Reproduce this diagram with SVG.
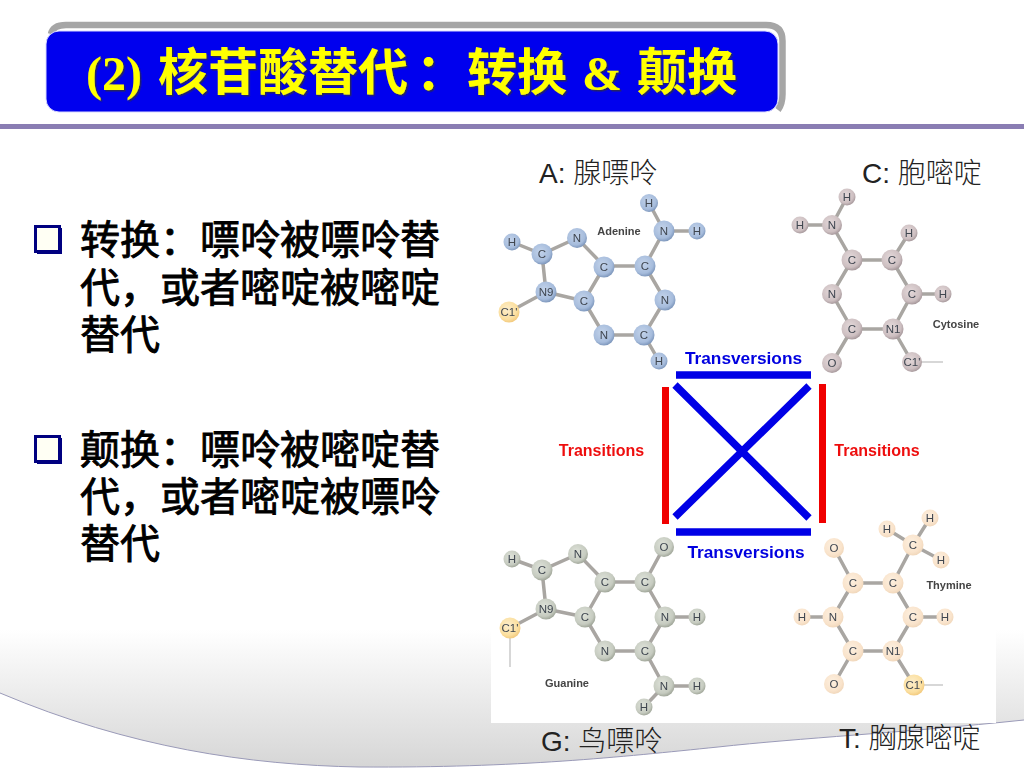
<svg xmlns="http://www.w3.org/2000/svg" width="1024" height="768" viewBox="0 0 1024 768">
<style>
.ttl{font-size:50px;font-weight:700;fill:#ffff00;font-family:"Noto Sans CJK SC",sans-serif}
.ser{font-family:"Liberation Serif",serif;font-size:48px}
.body{font-size:40px;font-weight:400;fill:#000;stroke:#000;stroke-width:.9px;font-family:"Noto Sans CJK SC",sans-serif}
.lab{font-size:28px;fill:#222;font-family:"Liberation Sans","Noto Sans CJK SC",sans-serif;font-weight:300}
.bond{fill:none;stroke:#a9a6a2;stroke-width:3.5}
.thin{fill:none;stroke:#bdbdbd;stroke-width:1.2}
.at{font:400 11.500px "Liberation Sans",sans-serif;fill:#3f4650;text-anchor:middle}
.name{font:700 11px "Liberation Sans",sans-serif;fill:#444;text-anchor:middle}
.a{fill:url(#ga)}.c{fill:url(#gc)}.g{fill:url(#gg)}.t{fill:url(#gt)}.y{fill:url(#gy)}
.tv{font:700 17.300px "Liberation Sans",sans-serif;fill:#0000e0;text-anchor:middle}
.ts{font:700 16px "Liberation Sans",sans-serif;fill:#ee1111;text-anchor:middle}
.blue{stroke:#0000e6;stroke-width:7.500;fill:none}
.red{fill:#f00000}
.bul{fill:#fffff4;stroke:#000080;stroke-width:3}
</style>
<defs>
<linearGradient id="bg" x1="0" y1="0" x2="0" y2="1"><stop offset="0" stop-color="#fff"/><stop offset="1" stop-color="#d6d6d6"/></linearGradient>
<radialGradient id="ga" cx=".42" cy=".38" r=".62"><stop offset="0" stop-color="#c3d3ea"/><stop offset=".75" stop-color="#a6bcdc"/><stop offset="1" stop-color="#7f98bd"/></radialGradient>
<radialGradient id="gc" cx=".42" cy=".38" r=".62"><stop offset="0" stop-color="#e4d9da"/><stop offset=".75" stop-color="#cdbfc1"/><stop offset="1" stop-color="#a89a9d"/></radialGradient>
<radialGradient id="gg" cx=".42" cy=".38" r=".62"><stop offset="0" stop-color="#dfe3da"/><stop offset=".75" stop-color="#c6cbc0"/><stop offset="1" stop-color="#a2a89b"/></radialGradient>
<radialGradient id="gt" cx=".42" cy=".38" r=".62"><stop offset="0" stop-color="#fdf0e0"/><stop offset=".75" stop-color="#f9e3cb"/><stop offset="1" stop-color="#f1d8bc"/></radialGradient>
<radialGradient id="gy" cx=".42" cy=".38" r=".62"><stop offset="0" stop-color="#fdeecb"/><stop offset=".75" stop-color="#fbdf9f"/><stop offset="1" stop-color="#f3cb80"/></radialGradient>
<filter id="soft" x="-5%" y="-5%" width="110%" height="110%"><feGaussianBlur stdDeviation="0.6"/></filter>
<filter id="soft2" x="-5%" y="-5%" width="110%" height="110%"><feGaussianBlur stdDeviation="0.35"/></filter>
<filter id="shd" x="-5%" y="-5%" width="110%" height="115%"><feDropShadow dx="1.5" dy="1.5" stdDeviation="0.6" flood-color="#333" flood-opacity=".75"/></filter>
</defs>

<g id="background">
<rect width="1024" height="768" fill="#fff"/>
<path d="M0 630H1024V720C900 733 800 738 718 747C620 757 520 768 359 767C250 765 130 748 0 693Z" fill="url(#bg)"/>
<path d="M0 693C130 748 250 765 359 767C520 768 620 757 718 747C800 738 900 733 1024 720" fill="none" stroke="#9a9ab8" stroke-width="1"/>
<rect x="0" y="124" width="1024" height="5" fill="#8a7db3"/>
</g>

<g id="title">
<path d="M51 34Q53 25 66 25H766Q782.500 25 782.500 41V94Q782.500 104 778 110" fill="none" stroke="#a6a6a6" stroke-width="6.500"/>
<rect x="46" y="31" width="732" height="81" rx="13" fill="#0000ee" stroke="#d8d8ff" stroke-width="1"/>
<text class="ttl" y="90" filter="url(#shd)"><tspan class="ser" x="86">(2)</tspan><tspan x="158">核苷酸替代</tspan><tspan x="416">：</tspan><tspan x="467">转换</tspan><tspan class="ser" x="582">&amp;</tspan><tspan x="637">颠换</tspan></text>
</g>

<g id="bullet-1">
<rect x="35.500" y="226.500" width="24" height="25" class="bul"/><path d="M61 228V253H37" fill="none" stroke="#000080" stroke-width="2"/>
<text class="body" x="80" y="254">转换：嘌呤被嘌呤替</text>
<text class="body" x="80" y="302">代，或者嘧啶被嘧啶</text>
<text class="body" x="80" y="349">替代</text>
</g>
<g id="bullet-2">
<rect x="35.500" y="436.500" width="24" height="25" class="bul"/><path d="M61 438V463H37" fill="none" stroke="#000080" stroke-width="2"/>
<text class="body" x="80" y="464">颠换：嘌呤被嘧啶替</text>
<text class="body" x="80" y="511">代，或者嘧啶被嘌呤</text>
<text class="body" x="80" y="558">替代</text>
</g>

<rect id="picture" x="491" y="150" width="505" height="573" fill="#fff"/>

<g id="adenine" filter="url(#soft)">
<path class="bond" d="M649 203L664 231H697M664 231L645 266H604L577 238L542 254L512 242M542 254L546 292L584 301L604 267M645 266L665 300L644 335L659 361M644 335H604L584 301M546 292L509 312"/>
<g>
<circle class="a" cx="649" cy="203" r="9"/><circle class="a" cx="664" cy="231" r="10.500"/><circle class="a" cx="697" cy="231" r="8.500"/><circle class="a" cx="577" cy="238" r="10"/><circle class="a" cx="512" cy="242" r="8.500"/><circle class="a" cx="542" cy="254" r="10.500"/><circle class="a" cx="604" cy="267" r="10.500"/><circle class="a" cx="645" cy="266" r="10.500"/><circle class="a" cx="546" cy="292" r="10.500"/><circle class="a" cx="584" cy="301" r="10.500"/><circle class="a" cx="665" cy="300" r="10.500"/><circle class="y" cx="509" cy="312" r="10.500"/><circle class="a" cx="604" cy="335" r="10.500"/><circle class="a" cx="644" cy="335" r="10.500"/><circle class="a" cx="659" cy="361" r="8.500"/>
</g>
<g>
<text class="at" x="649" y="207">H</text><text class="at" x="664" y="235">N</text><text class="at" x="697" y="235">H</text><text class="at" x="577" y="242">N</text><text class="at" x="512" y="246">H</text><text class="at" x="542" y="258">C</text><text class="at" x="604" y="271">C</text><text class="at" x="645" y="270">C</text><text class="at" x="546" y="296">N9</text><text class="at" x="584" y="305">C</text><text class="at" x="665" y="304">N</text><text class="at" x="509" y="316">C1'</text><text class="at" x="604" y="339">N</text><text class="at" x="644" y="339">C</text><text class="at" x="659" y="365">H</text>
</g>
<text class="name" x="619" y="235">Adenine</text>
</g>

<g id="cytosine" filter="url(#soft)">
<path class="bond" d="M847 197L832 225H800M832 225L852 260H892L912 294L893 329H852L832 294L852 260M892 260L909 233M912 294H943M852 329L832 363M893 329L912 362"/>
<path class="thin" d="M912 362H943"/>
<g>
<circle class="c" cx="847" cy="197" r="8.500"/><circle class="c" cx="800" cy="225" r="8.500"/><circle class="c" cx="832" cy="225" r="10"/><circle class="c" cx="909" cy="233" r="8.500"/><circle class="c" cx="852" cy="260" r="10.500"/><circle class="c" cx="892" cy="260" r="10.500"/><circle class="c" cx="832" cy="294" r="10"/><circle class="c" cx="912" cy="294" r="10.500"/><circle class="c" cx="943" cy="294" r="8.500"/><circle class="c" cx="852" cy="329" r="10.500"/><circle class="c" cx="893" cy="329" r="10.500"/><circle class="c" cx="832" cy="363" r="10"/><circle class="c" cx="912" cy="362" r="10"/>
</g>
<g>
<text class="at" x="847" y="201">H</text><text class="at" x="800" y="229">H</text><text class="at" x="832" y="229">N</text><text class="at" x="909" y="237">H</text><text class="at" x="852" y="264">C</text><text class="at" x="892" y="264">C</text><text class="at" x="832" y="298">N</text><text class="at" x="912" y="298">C</text><text class="at" x="943" y="298">H</text><text class="at" x="852" y="333">C</text><text class="at" x="893" y="333">N1</text><text class="at" x="832" y="367">O</text><text class="at" x="912" y="366">C1'</text>
</g>
<text class="name" x="956" y="328">Cytosine</text>
</g>

<g id="guanine" filter="url(#soft)">
<path class="bond" d="M664 547L645 582H605L578 554L542 570L512 559M542 570L546 609L585 617L605 582M645 582L665 617H697M665 617L645 651L664 686H697M664 686L644 707M645 651H605L585 617M546 609L510 628"/>
<path class="thin" d="M510 628V667" stroke-width="1.500"/>
<g>
<circle class="g" cx="664" cy="547" r="10"/><circle class="g" cx="578" cy="554" r="10"/><circle class="g" cx="512" cy="559" r="8.500"/><circle class="g" cx="542" cy="570" r="10.500"/><circle class="g" cx="605" cy="582" r="10.500"/><circle class="g" cx="645" cy="582" r="10.500"/><circle class="g" cx="546" cy="609" r="10.500"/><circle class="g" cx="585" cy="617" r="10.500"/><circle class="g" cx="665" cy="617" r="10.500"/><circle class="g" cx="697" cy="617" r="8.500"/><circle class="y" cx="510" cy="628" r="10.500"/><circle class="g" cx="605" cy="651" r="10.500"/><circle class="g" cx="645" cy="651" r="10.500"/><circle class="g" cx="664" cy="686" r="10.500"/><circle class="g" cx="697" cy="686" r="8.500"/><circle class="g" cx="644" cy="707" r="8.500"/>
</g>
<g>
<text class="at" x="664" y="551">O</text><text class="at" x="578" y="558">N</text><text class="at" x="512" y="563">H</text><text class="at" x="542" y="574">C</text><text class="at" x="605" y="586">C</text><text class="at" x="645" y="586">C</text><text class="at" x="546" y="613">N9</text><text class="at" x="585" y="621">C</text><text class="at" x="665" y="621">N</text><text class="at" x="697" y="621">H</text><text class="at" x="510" y="632">C1'</text><text class="at" x="605" y="655">N</text><text class="at" x="645" y="655">C</text><text class="at" x="664" y="690">N</text><text class="at" x="697" y="690">H</text><text class="at" x="644" y="711">H</text>
</g>
<text class="name" x="567" y="687">Guanine</text>
</g>

<g id="thymine" filter="url(#soft)">
<path class="bond" d="M930 518L913 545L887 529M913 545L941 560M913 545L893 583H853L834 548M853 583L833 617H802M833 617L853 651H893L914 685M893 651L913 617H945M913 617L893 583M853 651L834 684"/>
<path class="thin" d="M914 685H943"/>
<g>
<circle class="t" cx="930" cy="518" r="8.500"/><circle class="t" cx="887" cy="529" r="8.500"/><circle class="t" cx="913" cy="545" r="10.500"/><circle class="t" cx="941" cy="560" r="8.500"/><circle class="t" cx="834" cy="548" r="10"/><circle class="t" cx="853" cy="583" r="10.500"/><circle class="t" cx="893" cy="583" r="10.500"/><circle class="t" cx="802" cy="617" r="8.500"/><circle class="t" cx="833" cy="617" r="10.500"/><circle class="t" cx="913" cy="617" r="10.500"/><circle class="t" cx="945" cy="617" r="8.500"/><circle class="t" cx="853" cy="651" r="10.500"/><circle class="t" cx="893" cy="651" r="10.500"/><circle class="t" cx="834" cy="684" r="10"/><circle class="y" cx="914" cy="685" r="10.500"/>
</g>
<g>
<text class="at" x="930" y="522">H</text><text class="at" x="887" y="533">H</text><text class="at" x="913" y="549">C</text><text class="at" x="941" y="564">H</text><text class="at" x="834" y="552">O</text><text class="at" x="853" y="587">C</text><text class="at" x="893" y="587">C</text><text class="at" x="802" y="621">H</text><text class="at" x="833" y="621">N</text><text class="at" x="913" y="621">C</text><text class="at" x="945" y="621">H</text><text class="at" x="853" y="655">C</text><text class="at" x="893" y="655">N1</text><text class="at" x="834" y="688">O</text><text class="at" x="914" y="689">C1'</text>
</g>
<text class="name" x="949" y="589">Thymine</text>
</g>

<g id="connectors" filter="url(#soft2)">
<path class="blue" d="M676 375H811M676 532H811M675 385L809 518M809 386L675 517"/>
<rect class="red" x="662" y="387" width="7" height="137"/>
<rect class="red" x="819" y="384" width="7" height="139"/>
</g>

<g id="connector-labels" filter="url(#soft2)">
<text class="tv" x="743.500" y="364">Transversions</text>
<text class="tv" x="746" y="558">Transversions</text>
<text class="ts" x="601.500" y="456">Transitions</text>
<text class="ts" x="877" y="456">Transitions</text>
</g>

<g id="base-labels">
<text class="lab" x="539" y="183">A: 腺嘌呤</text>
<text class="lab" x="862" y="183">C: 胞嘧啶</text>
<text class="lab" x="541" y="751">G: 鸟嘌呤</text>
<text class="lab" x="839" y="748">T: 胸腺嘧啶</text>
</g>
</svg>
